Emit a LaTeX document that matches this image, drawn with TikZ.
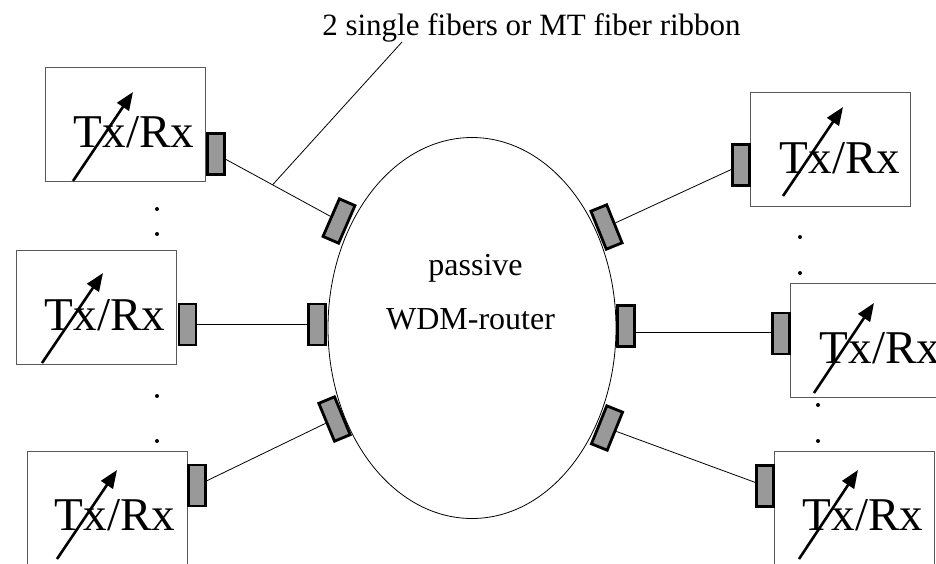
\documentclass[tikz,border=0pt]{standalone}
\usepackage{fontspec}
\setmainfont{Liberation Serif}
\usetikzlibrary{shapes.geometric,arrows.meta,calc}
\tikzset{
  trx_box/.style={
    draw=black!65, line width=0.9pt,
    minimum width=160pt, minimum height=114pt, inner sep=0pt
  },
  trx_lbl/.style={anchor=base, inner sep=0pt, font=\fontsize{47}{50}\selectfont},
  trx_port/.style={
    draw, line width=2.8pt, fill=black!40,
    minimum width=17pt, minimum height=41pt, inner sep=0pt
  },
  trx_fib/.style={line width=0.8pt},
  trx_tune/.style={line width=2.6pt, -{Triangle[length=18pt,width=14pt]}},
  rt_txt/.style={anchor=base, inner sep=0pt, font=\fontsize{32}{36}\selectfont},
}

\begin{document}
\begin{tikzpicture}[x=1pt, y=-1pt]
\clip (0,0) rectangle (936,563);

% WDM router
\node[draw, ellipse, line width=0.8pt, minimum width=288pt, minimum height=381pt] (wdm) at (472,328) {};
\node[rt_txt] (wdmtop) at (475.5,275) {passive};
\node[rt_txt] (wdmbot) at (470.5,329) {WDM-router};

% Transceiver boxes, left side
\node[trx_box] (boxtl) at (125.5,124.5) {};
\node[trx_box] (boxml) at (96.5,307.5)  {};
\node[trx_box] (boxbl) at (107,508.5)   {};
% Transceiver boxes, right side
\node[trx_box] (boxtr) at (830.5,149.5) {};
\node[trx_box] (boxmr) at (870.5,340.5) {};
\node[trx_box] (boxbr) at (854.5,508.5) {};

\node[trx_lbl] (lbltl) at ($(boxtl)+(8.5,23)$) {Tx/Rx};
\node[trx_lbl] (lblml) at ($(boxml)+(8.5,23)$) {Tx/Rx};
\node[trx_lbl] (lblbl) at ($(boxbl)+(8,22)$)   {Tx/Rx};
\node[trx_lbl] (lbltr) at ($(boxtr)+(9.5,23.5)$) {Tx/Rx};
\node[trx_lbl] (lblmr) at ($(boxmr)+(9.5,22.5)$) {Tx/Rx};
\node[trx_lbl] (lblbr) at ($(boxbr)+(8.5,22)$) {Tx/Rx};

% Tunable arrows
\draw[trx_tune] (73,181)  -- ++(60,-89);
\draw[trx_tune] (42,363)  -- ++(61,-90);
\draw[trx_tune] (57,559)  -- ++(60,-89);
\draw[trx_tune] (783,196) -- ++(60,-89);
\draw[trx_tune] (814,393) -- ++(60,-90);
\draw[trx_tune] (799,559) -- ++(59,-89);

% Ports on the boxes
\node[trx_port] (btl) at (216,154)     {};
\node[trx_port] (bml) at (187.5,324.5) {};
\node[trx_port] (bbl) at (197,485.5)   {};
\node[trx_port] (btr) at (741,165)     {};
\node[trx_port] (bmr) at (781,333.5)   {};
\node[trx_port] (bbr) at (765,486)     {};

% Ports on the router
\node[trx_port, rotate=-23.5] (etl) at (339,221)   {};
\node[trx_port]               (eml) at (317,324.5) {};
\node[trx_port, rotate=22.5]  (ebl) at (334.5,419) {};
\node[trx_port, rotate=22]    (etr) at (606.5,227) {};
\node[trx_port]               (emr) at (626,326)   {};
\node[trx_port, rotate=-22]   (ebr) at (607,428)   {};

% Fibers
\draw[trx_fib] (btl) -- (etl);
\draw[trx_fib] (bml) -- (eml);
\draw[trx_fib] (bbl) -- (ebl);
\draw[trx_fib] (btr) -- (etr);
\draw[trx_fib] (emr.east |- 0,332) -- (bmr.west |- 0,332);
\draw[trx_fib] (bbr) -- (ebr);

% Fiber label and leader
\node[rt_txt, font=\fontsize{31}{34}\selectfont] (fiblbl) at (531.5,35) {2 single fibers or MT fiber ribbon};
\coordinate (fibtap) at ($(btl)!0.46!(etl)$);
\coordinate (fibtop) at (402,42);
\draw[trx_fib] (fibtap) -- (fibtop);

% Dots
\fill (157,209) circle (2pt);
\fill (157,234) circle (2pt);
\fill (157,396) circle (2pt);
\fill (157,441) circle (2pt);
\fill (800,237) circle (2pt);
\fill (800,273) circle (2pt);
\fill (818,405) circle (2pt);
\fill (818,441) circle (2pt);

\end{tikzpicture}
\end{document}
